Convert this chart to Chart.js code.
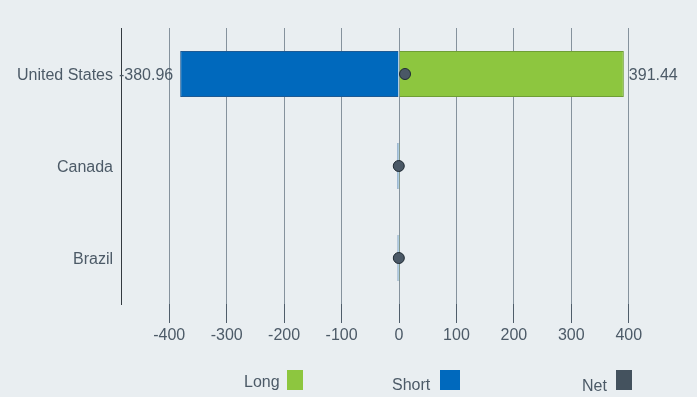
<!DOCTYPE html>
<html>
<head>
<meta charset="utf-8">
<script src="https://cdn.jsdelivr.net/npm/chart.js@4/dist/chart.umd.min.js"></script>
<style>
  html, body { margin: 0; padding: 0; background: #e9eef1; }
  #wrap { position: relative; width: 697px; height: 397px; }
  canvas { position: absolute; left: 0; top: 0; }
  .lg { position: absolute; font: 16px "Liberation Sans", Arial, sans-serif; color: #4c5a67; white-space: nowrap; }
  .bx { position: absolute; }
</style>
</head>
<body>
<div id="wrap">
  <canvas id="c" width="697" height="397"></canvas>
  <div class="lg" style="left:244px;top:373px;">Long</div>
  <div class="bx" style="left:287px;top:370px;width:16px;height:20px;background:#8dc63f;"></div>
  <div class="lg" style="left:392px;top:376px;">Short</div>
  <div class="bx" style="left:440px;top:370px;width:20px;height:20px;background:#0069bd;"></div>
  <div class="lg" style="left:582px;top:377px;">Net</div>
  <div class="bx" style="left:616px;top:370px;width:16px;height:20px;background:#44525e;"></div>
</div>
<script>
const categories = ["United States", "Canada", "Brazil"];
const longValues = [391.44, 0.2, 0.2];
const shortValues = [-380.96, -2.8, -2.6];
const netValues = [10.48, -0.4, -0.3];
const xTicks = [-400, -300, -200, -100, 0, 100, 200, 300, 400];

const TEXT = "#4c5a67";
Chart.defaults.font.family = '"Liberation Sans", Arial, sans-serif';
Chart.defaults.font.size = 16;
Chart.defaults.color = TEXT;

const labelPlugin = {
  id: "barLabels",
  afterDatasetsDraw(chart) {
    const ctx = chart.ctx;
    ctx.save();
    ctx.font = '16px "Liberation Sans", Arial, sans-serif';
    ctx.fillStyle = TEXT;
    ctx.textBaseline = "middle";
    [1, 2].forEach(di => {
      const ds = chart.data.datasets[di];
      const meta = chart.getDatasetMeta(di);
      meta.data.forEach((bar, j) => {
        const v = ds.data[j];
        if (Math.abs(v) < 10) return;
        if (v >= 0) {
          ctx.textAlign = "left";
          ctx.fillText(v.toFixed(2), bar.x + 5, bar.y + 2);
        } else {
          ctx.textAlign = "right";
          ctx.fillText(v.toFixed(2), bar.x - 7, bar.y + 2);
        }
      });
    });
    ctx.restore();
  }
};

new Chart(document.getElementById("c"), {
  data: {
    labels: categories,
    datasets: [
      {
        type: "line",
        label: "Net",
        data: netValues,
        indexAxis: "y",
        showLine: false,
        pointRadius: 5.5,
        pointBackgroundColor: "#4a5866",
        pointBorderColor: "#1f2a33",
        pointBorderWidth: 1,
        order: 0
      },
      {
        type: "bar",
        label: "Long",
        data: longValues,
        backgroundColor: "#8dc63f",
        borderColor: "#6f9e35",
        borderWidth: 1,
        grouped: false,
        barPercentage: 0.5,
        categoryPercentage: 1,
        order: 1
      },
      {
        type: "bar",
        label: "Short",
        data: shortValues,
        backgroundColor: "#0069bd",
        borderColor: "#1d5a94",
        borderWidth: 1,
        grouped: false,
        barPercentage: 0.5,
        categoryPercentage: 1,
        order: 1
      }
    ]
  },
  options: {
    indexAxis: "y",
    responsive: false,
    animation: false,
    layout: { padding: { top: 28, right: 20, bottom: 43, left: 0 } },
    plugins: { legend: { display: false }, tooltip: { enabled: false } },
    scales: {
      x: {
        min: -484,
        max: 484,
        afterBuildTicks(scale) { scale.ticks = xTicks.map(v => ({ value: v })); },
        afterFit(scale) { scale.height = 50; },
        grid: { color: "#85929d", tickColor: "#4f5d6a", tickLength: 19, lineWidth: 1 },
        border: { display: false },
        ticks: { padding: 3, color: TEXT, font: { size: 16 }, maxRotation: 0 }
      },
      y: {
        afterFit(scale) { scale.width = 121; },
        grid: { display: false, drawTicks: false },
        border: { display: true, color: "#333a40", width: 1 },
        ticks: { padding: 8, labelOffset: 2, color: TEXT, font: { size: 16 } }
      }
    }
  },
  plugins: [labelPlugin]
});
</script>
</body>
</html>
